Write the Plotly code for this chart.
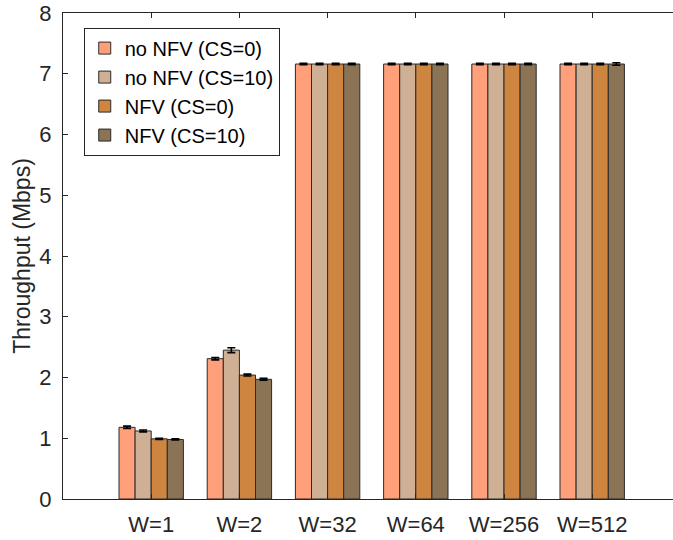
import plotly.graph_objects as go

categories = ["W=1", "W=2", "W=32", "W=64", "W=256", "W=512"]
series_names = ["no NFV (CS=0)", "no NFV (CS=10)", "NFV (CS=0)", "NFV (CS=10)"]
no_nfv_cs0 = [1.18, 2.31, 7.16, 7.16, 7.16, 7.16]
no_nfv_cs10 = [1.12, 2.45, 7.16, 7.16, 7.16, 7.16]
nfv_cs0 = [0.99, 2.04, 7.16, 7.16, 7.16, 7.16]
nfv_cs10 = [0.98, 1.97, 7.16, 7.16, 7.16, 7.16]
err_no_nfv_cs0 = [0.02, 0.02, 0.01, 0.01, 0.01, 0.01]
err_no_nfv_cs10 = [0.015, 0.04, 0.01, 0.01, 0.01, 0.01]
err_nfv_cs0 = [0.01, 0.015, 0.01, 0.01, 0.01, 0.01]
err_nfv_cs10 = [0.01, 0.015, 0.01, 0.01, 0.01, 0.02]
y_ticks = [0, 1, 2, 3, 4, 5, 6, 7, 8]

values = [no_nfv_cs0, no_nfv_cs10, nfv_cs0, nfv_cs10]
errors = [err_no_nfv_cs0, err_no_nfv_cs10, err_nfv_cs0, err_nfv_cs10]
colors = ["#FFA07A", "#CFB095", "#CD853F", "#8B7355"]

font_family = "Liberation Sans, Arial, Helvetica, sans-serif"
axis_color = "#262626"

fig = go.Figure()
for name, vals, errs, col in zip(series_names, values, errors, colors):
    fig.add_trace(go.Bar(
        name=name, x=categories, y=vals,
        marker=dict(color=col, line=dict(color="#2a2a2a", width=1)),
        error_y=dict(type="data", array=errs, visible=True,
                     color="#000000", thickness=1.6, width=4),
    ))

fig.update_layout(
    width=673, height=540,
    margin=dict(l=63, r=0, t=13, b=41, autoexpand=False),
    paper_bgcolor="white", plot_bgcolor="white",
    barmode="group", bargap=0.27, bargroupgap=0,
    font=dict(family=font_family, color=axis_color),
    showlegend=True,
    legend=dict(
        x=0.034, y=0.97, xanchor="left", yanchor="top",
        bgcolor="white", bordercolor="#262626", borderwidth=1,
        font=dict(size=20, color="#000000", family=font_family),
        tracegroupgap=0,
    ),
    xaxis=dict(
        type="category", range=[-1, 5.916], automargin=False,
        showline=True, linecolor=axis_color, linewidth=1,
        mirror="ticks", ticks="inside", ticklen=5, tickcolor=axis_color,
        tickfont=dict(size=22, color=axis_color), ticklabelstandoff=6,
        ticklabeloverflow="allow",
        showgrid=False, zeroline=False,
    ),
    yaxis=dict(
        range=[0, 8], tickvals=y_ticks, automargin=False,
        showline=True, linecolor=axis_color, linewidth=1,
        ticks="inside", ticklen=5, tickcolor=axis_color,
        tickfont=dict(size=22, color=axis_color), ticklabelstandoff=6,
        ticklabeloverflow="allow",
        title=dict(text="Throughput (Mbps)", font=dict(size=23, color=axis_color), standoff=2),
        showgrid=False, zeroline=False,
    ),
)

# remove the page's default body margin so the figure sits at the window's corner
fig.write_html("out.html",
               config={"displayModeBar": False},
               post_script="document.body.style.margin='0';document.body.style.overflow='hidden';")
